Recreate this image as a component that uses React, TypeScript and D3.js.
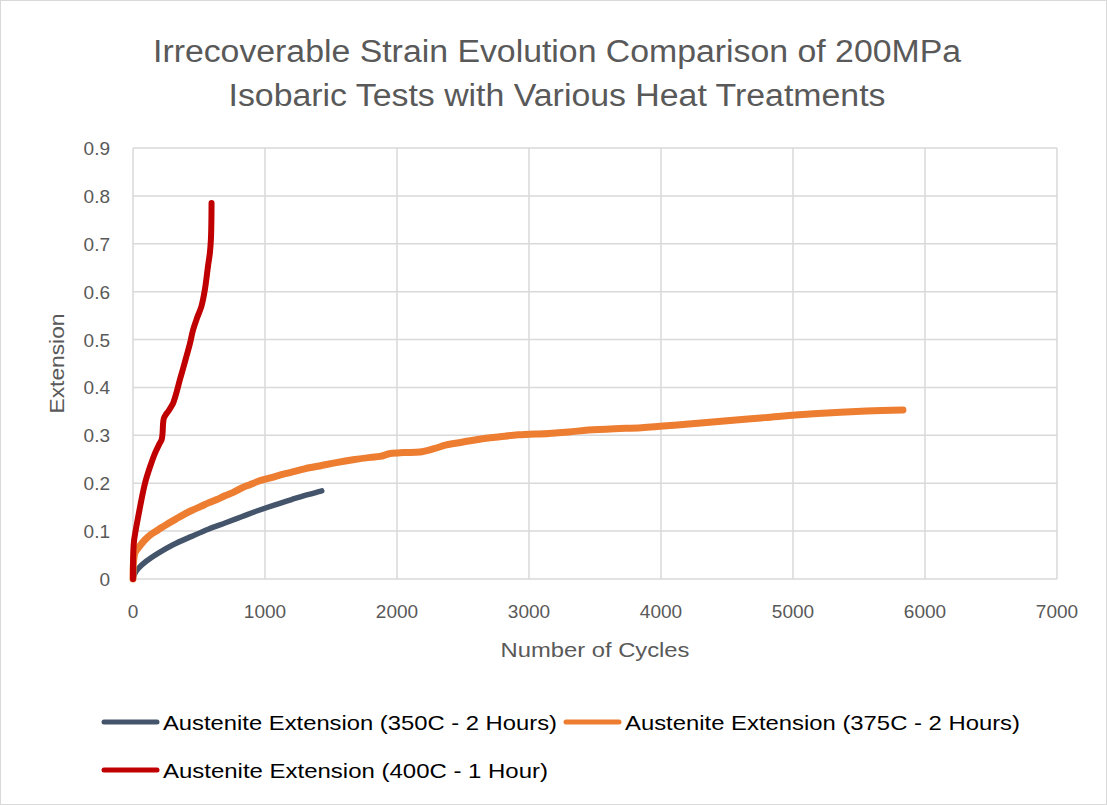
import React from "react";
import * as d3 from "d3";

// Austenite extension vs. number of cycles for three heat treatments
const series350: [number, number][] = [
  [0, 0], [15, 0.012], [40, 0.022], [100, 0.037], [192, 0.054], [300, 0.071],
  [444, 0.089], [570, 0.104], [697, 0.117], [823, 0.13], [949, 0.143],
  [1076, 0.155], [1202, 0.166], [1310, 0.175], [1417, 0.183], [1430, 0.184],
];

const series375: [number, number][] = [
  [0, 0], [4, 0.035], [15, 0.055], [40, 0.065], [91, 0.082], [140, 0.094],
  [192, 0.103], [255, 0.114], [318, 0.124], [380, 0.134], [444, 0.143],
  [510, 0.151], [571, 0.159], [635, 0.166], [697, 0.174], [760, 0.181],
  [823, 0.19], [885, 0.197], [949, 0.204], [1010, 0.209], [1076, 0.214],
  [1140, 0.219], [1202, 0.223], [1300, 0.23], [1429, 0.237], [1540, 0.243],
  [1667, 0.249], [1800, 0.254], [1871, 0.256], [1950, 0.262], [2050, 0.264],
  [2172, 0.265], [2280, 0.272], [2374, 0.28], [2500, 0.286], [2626, 0.292],
  [2780, 0.297], [2917, 0.301], [3150, 0.304], [3300, 0.307], [3450, 0.311],
  [3650, 0.314], [3851, 0.316], [4144, 0.322], [4523, 0.331], [4788, 0.337],
  [5154, 0.345], [5556, 0.351], [5833, 0.353],
];

const series400: [number, number][] = [
  [0, 0], [2, 0.054], [8, 0.08], [40, 0.131], [91, 0.2], [130, 0.235],
  [167, 0.263], [200, 0.282], [217, 0.291], [224, 0.305], [228, 0.325],
  [234, 0.336], [250, 0.344], [267, 0.35], [290, 0.36], [305, 0.368],
  [330, 0.39], [355, 0.416], [380, 0.44], [405, 0.465], [430, 0.49],
  [455, 0.52], [485, 0.545], [518, 0.569], [545, 0.605], [568, 0.653],
  [582, 0.68], [590, 0.708], [594, 0.75], [595, 0.785],
];

const xTicks = [0, 1000, 2000, 3000, 4000, 5000, 6000, 7000];
const yTicks = [0, 0.1, 0.2, 0.3, 0.4, 0.5, 0.6, 0.7, 0.8, 0.9];

const titleLines = [
  "Irrecoverable Strain Evolution Comparison of 200MPa",
  "Isobaric Tests with Various Heat Treatments",
];

const legendItems = [
  { label: "Austenite Extension (350C - 2 Hours)", color: "#44546A", width: 5.5 },
  { label: "Austenite Extension (375C - 2 Hours)", color: "#ED7D31", width: 7 },
  { label: "Austenite Extension (400C - 1 Hour)", color: "#C00000", width: 6 },
];

const W = 1107;
const H = 805;
const plot = { left: 133, right: 1057, top: 148, bottom: 579 };
const font = "'Liberation Sans', Arial, sans-serif";

export default function App() {
  const x = d3.scaleLinear().domain([0, 7000]).range([plot.left, plot.right]);
  const y = d3.scaleLinear().domain([0, 0.9]).range([plot.bottom, plot.top]);
  const line = d3
    .line<[number, number]>()
    .x((d) => x(d[0]))
    .y((d) => y(d[1]))
    .curve(d3.curveCatmullRom.alpha(0.5));

  const lines = [
    { data: series350, ...legendItems[0] },
    { data: series375, ...legendItems[1] },
    { data: series400, ...legendItems[2] },
  ];

  const legendPos = [
    { x: 104, y: 722, textLen: 394 },
    { x: 566, y: 722, textLen: 395 },
    { x: 104, y: 770, textLen: 385 },
  ];

  return (
    <svg
      width={W}
      height={H}
      style={{ position: "absolute", left: 0, top: 0, background: "#fff" }}
      fontFamily={font}
    >
      <rect x={0.5} y={0.5} width={W - 1} height={H - 1} fill="#fff" stroke="#D9D9D9" />

      {titleLines.map((t, i) => (
        <text
          key={t}
          x={557}
          y={62 + i * 44}
          textAnchor="middle"
          fontSize={31}
          fill="#595959"
          textLength={i === 0 ? 808 : 657}
          lengthAdjust="spacingAndGlyphs"
        >
          {t}
        </text>
      ))}

      {/* gridlines */}
      {yTicks.map((t) => (
        <line key={"gy" + t} x1={plot.left} x2={plot.right} y1={y(t)} y2={y(t)} stroke="#D9D9D9" strokeWidth={1.5} />
      ))}
      {xTicks.map((t) => (
        <line key={"gx" + t} x1={x(t)} x2={x(t)} y1={plot.top} y2={plot.bottom} stroke="#D9D9D9" strokeWidth={1.5} />
      ))}

      {/* tick labels */}
      {yTicks.map((t) => (
        <text key={"ly" + t} x={110} y={y(t) + 7} textAnchor="end" fontSize={19} fill="#595959">
          {d3.format("")(+t.toFixed(1))}
        </text>
      ))}
      {xTicks.map((t) => (
        <text key={"lx" + t} x={x(t)} y={618} textAnchor="middle" fontSize={19} fill="#595959">
          {t}
        </text>
      ))}

      <text x={595} y={657} textAnchor="middle" fontSize={21} fill="#595959" textLength={189} lengthAdjust="spacingAndGlyphs">
        Number of Cycles
      </text>
      <text
        transform={`translate(64, ${y(0.45)}) rotate(-90)`}
        textAnchor="middle"
        fontSize={21}
        fill="#595959"
        textLength={100}
        lengthAdjust="spacingAndGlyphs"
      >
        Extension
      </text>

      {/* series */}
      {lines.map((s) => (
        <path
          key={s.label}
          d={line(s.data) || ""}
          fill="none"
          stroke={s.color}
          strokeWidth={s.width}
          strokeLinecap="round"
          strokeLinejoin="round"
        />
      ))}

      {/* legend */}
      {legendItems.map((it, i) => {
        const p = legendPos[i];
        return (
          <g key={it.label}>
            <line x1={p.x} x2={p.x + 53} y1={p.y} y2={p.y} stroke={it.color} strokeWidth={5} strokeLinecap="round" />
            <text
              x={p.x + 59}
              y={p.y + 7.5}
              fontSize={21}
              fill="#000"
              textLength={p.textLen}
              lengthAdjust="spacingAndGlyphs"
            >
              {it.label}
            </text>
          </g>
        );
      })}
    </svg>
  );
}
